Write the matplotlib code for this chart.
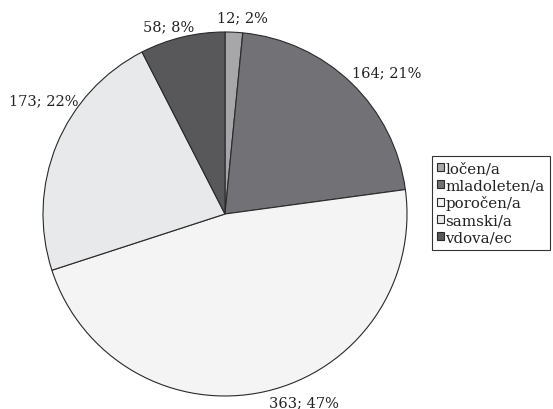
import matplotlib
matplotlib.use("Agg")
import matplotlib.pyplot as plt

plt.rcParams['font.family'] = ['DejaVu Serif']

categories = ['ločen/a', 'mladoleten/a', 'poročen/a', 'samski/a', 'vdova/ec']
counts = [12, 164, 363, 173, 58]
percents = [2, 21, 47, 22, 8]
colors = ['#a7a7a9', '#727276', '#f3f4f3', '#e8e9eb', '#58585a']

# label anchor points (pixel coords in the 553x410 picture), Excel "best fit" style
label_px = [(242, 18), (387, 73), (304, 403), (44, 101), (169, 27)]

W, H = 553, 410
cx, cy, r = 225, 215, 182

fig = plt.figure(figsize=(W / 100, H / 100), dpi=100)
ax = fig.add_axes([(cx - r) / W, (H - cy - r) / H, 2 * r / W, 2 * r / H])

wedges, _ = ax.pie(counts, colors=colors, startangle=90, counterclock=False,
                   radius=1.0,
                   wedgeprops=dict(edgecolor='#2a2a2a', linewidth=0.8))
ax.set_xlim(-1, 1)
ax.set_ylim(-1, 1)
ax.set_aspect('equal')
ax.axis('off')

for (px, py), n, p in zip(label_px, counts, percents):
    ax.text((px - cx) / r, (cy - py) / r, f'{n}; {p}%', ha='center', va='center',
            fontsize=10.5, color='#222222', clip_on=False)

leg = fig.legend(wedges, categories, loc='upper left',
                 bbox_to_anchor=(432 / W, 1 - 157 / H),
                 fontsize=10.8, frameon=True, fancybox=False,
                 handlelength=0.45, handleheight=0.45, handletextpad=0.08,
                 labelspacing=0.2, borderpad=0.35, borderaxespad=0)
leg.get_frame().set_edgecolor('black')
leg.get_frame().set_linewidth(0.8)
for t in leg.get_texts():
    t.set_color('#222222')

fig.savefig('out.png', dpi=100)
